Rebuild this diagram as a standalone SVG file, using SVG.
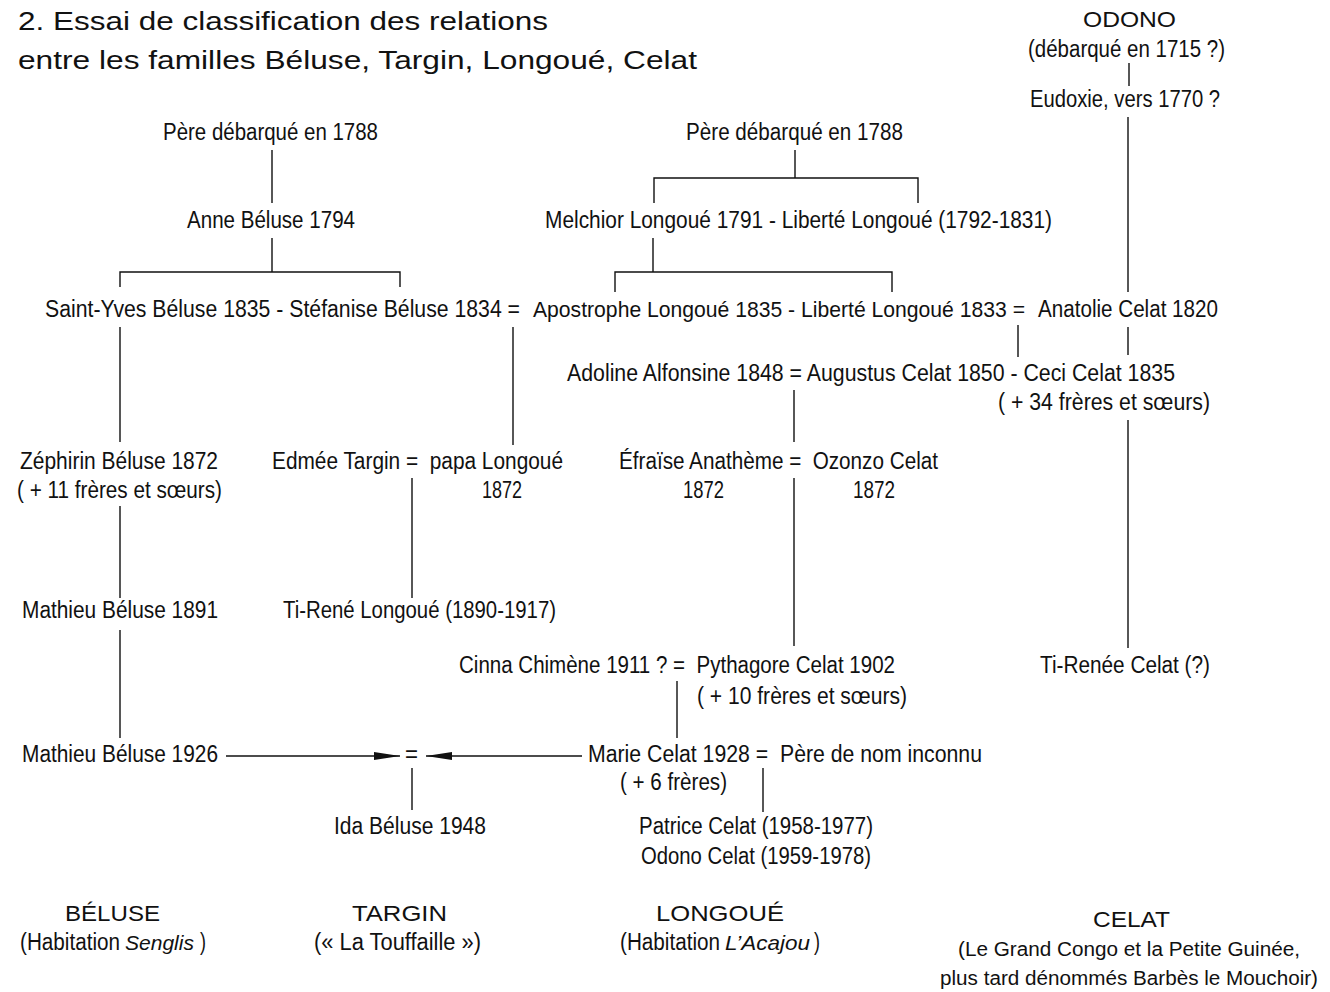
<svg xmlns="http://www.w3.org/2000/svg" width="1330" height="992" viewBox="0 0 1330 992">
<defs>
<style>
.t{font-family:"Liberation Sans",Arial,sans-serif;font-size:23px;fill:#111}
.s{font-family:"Liberation Sans",Arial,sans-serif;font-size:20px;fill:#111}
.h{font-family:"Liberation Sans",Arial,sans-serif;font-size:26px;fill:#111}
.c{font-family:"Liberation Sans",Arial,sans-serif;font-size:22px;fill:#111}
.i{font-style:italic}
.l{stroke:#111;stroke-width:1.4;fill:none}
</style>
<marker id="ah" viewBox="0 0 26 10" refX="26" refY="5" markerWidth="26" markerHeight="10" markerUnits="userSpaceOnUse" orient="auto">
<path d="M0,1 L26,5 L0,9 Z" fill="#111"/>
</marker>
</defs>
<rect width="1330" height="992" fill="#fff"/>
<g id="title">
<text class="h" x="18" y="30" textLength="530" lengthAdjust="spacingAndGlyphs">2. Essai de classification des relations</text>
<text class="h" x="18" y="69" textLength="679" lengthAdjust="spacingAndGlyphs">entre les familles Béluse, Targin, Longoué, Celat</text>
</g>
<g id="connectors">
<path class="l" d="M272 150V203M272 238V272M120 287V272H400V287"/>
<path class="l" d="M795 150V178M654 203V178H918V203"/>
<path class="l" d="M653 238V272M615 292V272H892V292"/>
<path class="l" d="M1129 63V86M1128 117V292"/>
<path class="l" d="M120 327V442M120 506V598M120 630V738"/>
<path class="l" d="M513 327V445M412 478V598"/>
<path class="l" d="M1018 325V357M1128 327V355"/>
<path class="l" d="M794 390V442M794 478V646M1128 420V648"/>
<path class="l" d="M677 681V738M412 768V810M763 768V812"/>
<path class="l" d="M226 756H400" marker-end="url(#ah)"/>
<path class="l" d="M582 756H426" marker-end="url(#ah)"/>
</g>
<g id="odono">
<text class="c" x="1083" y="27" textLength="93" lengthAdjust="spacingAndGlyphs">ODONO</text>
<text class="t" x="1028" y="57" textLength="197" lengthAdjust="spacingAndGlyphs">(débarqué en 1715 ?)</text>
</g>
<g id="eudoxie"><text class="t" x="1030" y="107" textLength="190" lengthAdjust="spacingAndGlyphs">Eudoxie, vers 1770 ?</text></g>
<g id="pere-beluse"><text class="t" x="163" y="140" textLength="215" lengthAdjust="spacingAndGlyphs">Père débarqué en 1788</text></g>
<g id="anne"><text class="t" x="187" y="228" textLength="168" lengthAdjust="spacingAndGlyphs">Anne Béluse 1794</text></g>
<g id="pere-longoue"><text class="t" x="686" y="140" textLength="217" lengthAdjust="spacingAndGlyphs">Père débarqué en 1788</text></g>
<g id="melchior"><text class="t" x="545" y="228" textLength="507" lengthAdjust="spacingAndGlyphs">Melchior Longoué 1791 - Liberté Longoué (1792-1831)</text></g>
<g id="saint-yves"><text class="t" x="45" y="317" textLength="475" lengthAdjust="spacingAndGlyphs">Saint-Yves Béluse 1835 - Stéfanise Béluse 1834 =</text></g>
<g id="apostrophe"><text class="t" x="533" y="317" textLength="492" lengthAdjust="spacingAndGlyphs" style="font-size:21.5px">Apostrophe Longoué 1835 - Liberté Longoué 1833 =</text></g>
<g id="anatolie"><text class="t" x="1038" y="317" textLength="180" lengthAdjust="spacingAndGlyphs">Anatolie Celat 1820</text></g>
<g id="adoline">
<text class="t" x="567" y="381" textLength="608" lengthAdjust="spacingAndGlyphs">Adoline Alfonsine 1848 = Augustus Celat 1850 - Ceci Celat 1835</text>
<text class="t" x="998" y="410" textLength="212" lengthAdjust="spacingAndGlyphs">( + 34 frères et sœurs)</text>
</g>
<g id="zephirin">
<text class="t" x="20" y="469" textLength="198" lengthAdjust="spacingAndGlyphs">Zéphirin Béluse 1872</text>
<text class="t" x="17" y="498" textLength="205" lengthAdjust="spacingAndGlyphs">( + 11 frères et sœurs)</text>
</g>
<g id="edmee">
<text class="t" x="272" y="469" textLength="291" lengthAdjust="spacingAndGlyphs">Edmée Targin =&#160; papa Longoué</text>
<text class="t" x="482" y="498" textLength="40" lengthAdjust="spacingAndGlyphs">1872</text>
</g>
<g id="efraise">
<text class="t" x="619" y="469" textLength="319" lengthAdjust="spacingAndGlyphs">Éfraïse Anathème =&#160; Ozonzo Celat</text>
<text class="t" x="683" y="498" textLength="41" lengthAdjust="spacingAndGlyphs">1872</text>
<text class="t" x="853" y="498" textLength="42" lengthAdjust="spacingAndGlyphs">1872</text>
</g>
<g id="mathieu1891"><text class="t" x="22" y="618" textLength="196" lengthAdjust="spacingAndGlyphs">Mathieu Béluse 1891</text></g>
<g id="tirene"><text class="t" x="283" y="618" textLength="273" lengthAdjust="spacingAndGlyphs">Ti-René Longoué (1890-1917)</text></g>
<g id="cinna">
<text class="t" x="459" y="673" textLength="436" lengthAdjust="spacingAndGlyphs">Cinna Chimène 1911 ? =&#160; Pythagore Celat 1902</text>
<text class="t" x="697" y="704" textLength="210" lengthAdjust="spacingAndGlyphs">( + 10 frères et sœurs)</text>
</g>
<g id="tirenee"><text class="t" x="1040" y="673" textLength="170" lengthAdjust="spacingAndGlyphs">Ti-Renée Celat (?)</text></g>
<g id="mathieu1926"><text class="t" x="22" y="762" textLength="196" lengthAdjust="spacingAndGlyphs">Mathieu Béluse 1926</text></g>
<g id="union"><text class="t" x="405" y="762" textLength="13" lengthAdjust="spacingAndGlyphs">=</text></g>
<g id="marie">
<text class="t" x="588" y="762" textLength="394" lengthAdjust="spacingAndGlyphs">Marie Celat 1928 =&#160; Père de nom inconnu</text>
<text class="t" x="620" y="790" textLength="107" lengthAdjust="spacingAndGlyphs">( + 6 frères)</text>
</g>
<g id="ida"><text class="t" x="334" y="834" textLength="152" lengthAdjust="spacingAndGlyphs">Ida Béluse 1948</text></g>
<g id="patrice">
<text class="t" x="639" y="834" textLength="234" lengthAdjust="spacingAndGlyphs">Patrice Celat (1958-1977)</text>
<text class="t" x="641" y="864" textLength="230" lengthAdjust="spacingAndGlyphs">Odono Celat (1959-1978)</text>
</g>
<g id="legend-beluse">
<text class="c" x="65" y="921" textLength="95" lengthAdjust="spacingAndGlyphs">BÉLUSE</text>
<text class="t" x="20" y="950" textLength="100" lengthAdjust="spacingAndGlyphs">(Habitation</text>
<text class="t i" x="125" y="950" textLength="69" lengthAdjust="spacingAndGlyphs" style="font-size:21px">Senglis</text>
<text class="t" x="200" y="950" textLength="6" lengthAdjust="spacingAndGlyphs">)</text>
</g>
<g id="legend-targin">
<text class="c" x="352" y="921" textLength="95" lengthAdjust="spacingAndGlyphs">TARGIN</text>
<text class="t" x="314" y="950" textLength="167" lengthAdjust="spacingAndGlyphs">(« La Touffaille »)</text>
</g>
<g id="legend-longoue">
<text class="c" x="656" y="921" textLength="128" lengthAdjust="spacingAndGlyphs">LONGOUÉ</text>
<text class="t" x="620" y="950" textLength="100" lengthAdjust="spacingAndGlyphs">(Habitation</text>
<text class="t i" x="725" y="950" textLength="85" lengthAdjust="spacingAndGlyphs" style="font-size:21px">L’Acajou</text>
<text class="t" x="814" y="950" textLength="6" lengthAdjust="spacingAndGlyphs">)</text>
</g>
<g id="legend-celat">
<text class="c" x="1093" y="927" textLength="77" lengthAdjust="spacingAndGlyphs">CELAT</text>
<text class="s" x="958" y="956" textLength="342" lengthAdjust="spacingAndGlyphs">(Le Grand Congo et la Petite Guinée,</text>
<text class="s" x="940" y="985" textLength="378" lengthAdjust="spacingAndGlyphs">plus tard dénommés Barbès le Mouchoir)</text>
</g>
</svg>
